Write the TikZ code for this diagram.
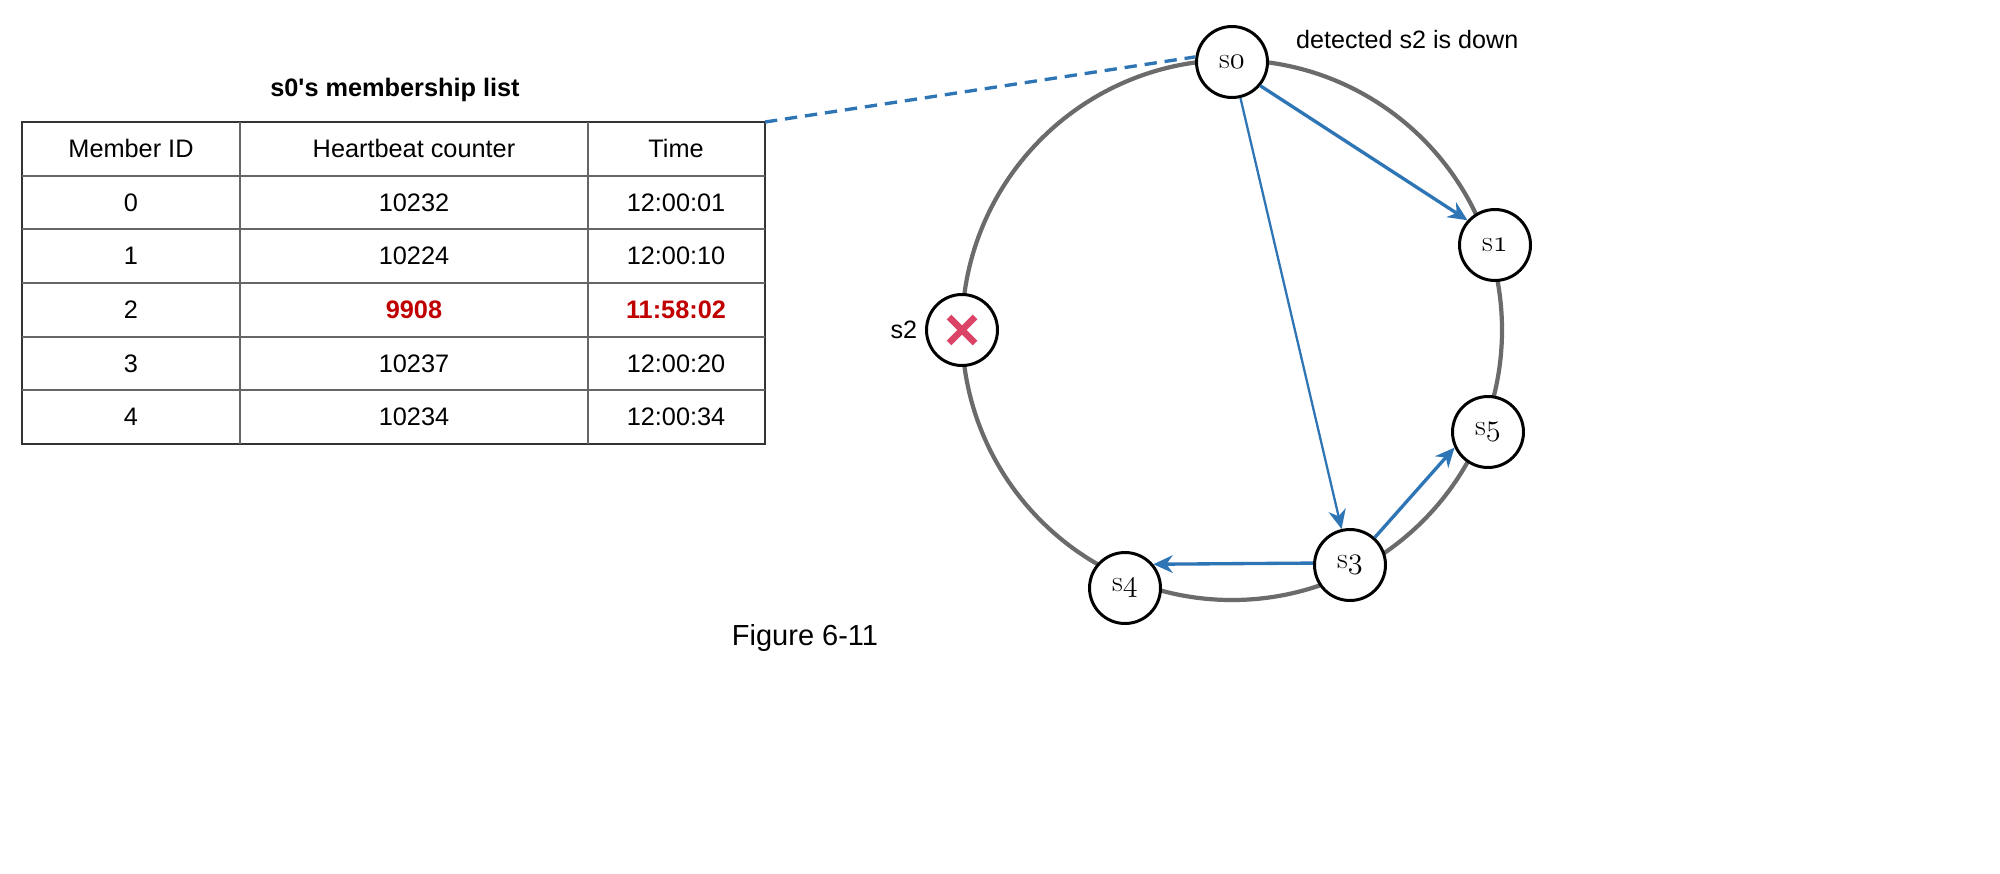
\documentclass[tikz,border=0pt]{standalone}
\usepackage{fontspec}
\setmainfont{Liberation Sans}
\newfontfamily\srvfont{Latin Modern Roman}
\usetikzlibrary{positioning,arrows.meta}
\definecolor{ringgray}{HTML}{6B6B6B}
\definecolor{msgblue}{HTML}{2E75B6}
\definecolor{stalered}{HTML}{C00000}
\definecolor{crossred}{HTML}{DC4467}
\newcommand{\srv}[1]{{\srvfont s$\mathnormal{#1}$}}
\tikzset{
  server/.style={circle,draw=black,line width=1.7pt,fill=white,minimum size=1.42cm,inner sep=0pt,font=\fontsize{17}{19}\selectfont},
  gossip/.style={draw=msgblue,line width=1.9pt,-{Stealth[length=11pt,width=10pt]}},
  cell/.style={font=\fontsize{14.4}{17}\selectfont},
  plain/.style={},
  stale/.style={text=stalered,font=\fontsize{14.4}{17}\selectfont\bfseries},
  note/.style={font=\fontsize{14.3}{17}\selectfont},
}
\begin{document}
\begin{tikzpicture}[x=0.02cm,y=-0.02cm]
\useasboundingbox (0,0) rectangle (2000,873);
% membership list of s0
\node[font=\fontsize{14.4}{17}\selectfont\bfseries] (title) at (395,90) {s0\textquotesingle s membership list};
\foreach \id/\hb/\tm/\st [count=\r from 0] in {Member ID/Heartbeat counter/Time/plain,
    0/10232/12:00:01/plain, 1/10224/12:00:10/plain, 2/9908/11:58:02/stale,
    3/10237/12:00:20/plain, 4/10234/12:00:34/plain}{
  \node[cell] (id\r) at (131,148.8+53.67*\r) {\id};
  \node[cell,\st] (hb\r) at (414,148.8+53.67*\r) {\hb};
  \node[cell,\st] (tm\r) at (676,148.8+53.67*\r) {\tm};
}
\draw[line width=1.3pt,black!80] (22,122) rectangle (765,444);
\foreach \y in {175.7,229.3,283,336.7,390.3}
  \draw[line width=1.1pt,black!60] (22,\y) -- (765,\y);
\draw[line width=0.9pt,black!60] (240,122) -- (240,444) (588,122) -- (588,444);
\coordinate (tab) at (765,122);
% ring of servers
\draw[ringgray,line width=2.4pt] (1232,330) circle[radius=270];
\node[server] (s0) at (1232,62) {\srv0};
\node[server] (s1) at (1495,245) {\srv1};
\node[server] (s2) at (962,330) {};
\node[server] (s5) at (1488,432) {\srv5};
\node[server] (s3) at (1350,565) {\srv3};
\node[server] (s4) at (1125,588) {\srv4};
\draw[crossred,line width=3.8pt] (s2.center) +(-13,-13) -- +(13,13) +(-13,13) -- +(13,-13);
\node[note,left=1pt of s2] (s2name) {s2};
\node[note,anchor=west] (down) at (1290,40) {detected s2 is down};
% gossip messages
\draw[msgblue,line width=1.9pt,dash pattern=on 7pt off 4.5pt] (tab) -- (s0.172);
\draw[gossip] (s0.-40) -- (s1.138);
\draw[gossip,line width=1.3pt] (s0) -- (s3);
\draw[gossip] (s3.177) -- (s4.40);
\draw[gossip] (s3.48) -- (s5.205);
\node[font=\fontsize{16.5}{19}\selectfont] (caption) at (805,638) {Figure 6-11};
\end{tikzpicture}
\end{document}
